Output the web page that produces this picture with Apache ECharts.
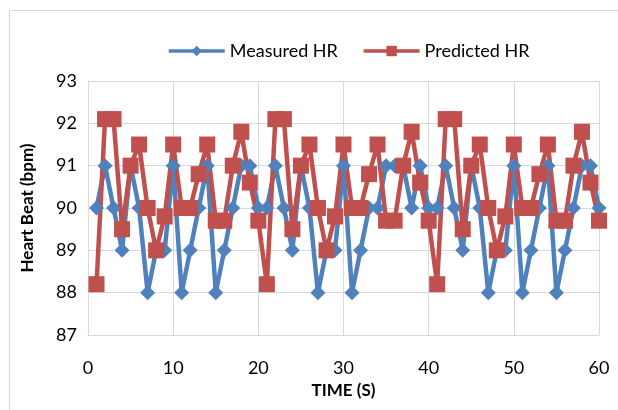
<!DOCTYPE html>
<html>
<head>
<meta charset="utf-8">
<script src="https://cdn.jsdelivr.net/npm/echarts@6/dist/echarts.min.js"></script>
<style>
html, body { margin: 0; padding: 0; background: #fff; }
#chart { width: 618px; height: 410px; }
</style>
</head>
<body>
<div id="chart"></div>
<script>
// time in seconds
var times = [1, 2, 3, 4, 5, 6, 7, 8, 9, 10, 11, 12, 13, 14, 15, 16, 17, 18, 19, 20,
	21, 22, 23, 24, 25, 26, 27, 28, 29, 30, 31, 32, 33, 34, 35, 36, 37, 38, 39, 40,
	41, 42, 43, 44, 45, 46, 47, 48, 49, 50, 51, 52, 53, 54, 55, 56, 57, 58, 59, 60];

var measuredHR = [90, 91, 90, 89, 91, 90, 88, 89, 89, 91, 88, 89, 90, 91, 88, 89, 90, 91, 91, 90,
	90, 91, 90, 89, 91, 90, 88, 89, 89, 91, 88, 89, 90, 90, 91, 91, 91, 90, 91, 90,
	90, 91, 90, 89, 91, 90, 88, 89, 89, 91, 88, 89, 90, 91, 88, 89, 90, 91, 91, 90];

var predictedHR = [88.2, 92.1, 92.1, 89.5, 91.0, 91.5, 90.0, 89.0, 89.8, 91.5, 90.0, 90.0, 90.8, 91.5, 89.7, 89.7, 91.0, 91.8, 90.6, 89.7,
	88.2, 92.1, 92.1, 89.5, 91.0, 91.5, 90.0, 89.0, 89.8, 91.5, 90.0, 90.0, 90.8, 91.5, 89.7, 89.7, 91.0, 91.8, 90.6, 89.7,
	88.2, 92.1, 92.1, 89.5, 91.0, 91.5, 90.0, 89.0, 89.8, 91.5, 90.0, 90.0, 90.8, 91.5, 89.7, 89.7, 91.0, 91.8, 90.6, 89.7];

var xRange = [0, 60, 10];   // min, max, step
var yRange = [87, 93, 1];

function pairs(ys) {
	return times.map(function(t, i) { return [t, ys[i]]; });
}

var font = 'Lato';
var dom = document.getElementById('chart');
var myChart = echarts.init(dom);

var option = {
	animation: false,
	graphic: [{
		type: 'rect',
		shape: { x: 9.5, y: 10.5, width: 640, height: 440 },
		style: { fill: 'none', stroke: '#d9d9d9', lineWidth: 1 }
	}],
	legend: {
		top: 37,
		left: 162,
		itemWidth: 56,
		itemHeight: 13,
		itemGap: 24,
		lineStyle: { width: 3.5 },
		textStyle: { fontFamily: font, fontSize: 18, color: '#000' },
		data: ['Measured HR', 'Predicted HR']
	},
	grid: {
		left: 88,
		right: 19,
		top: 81,
		bottom: 75
	},
	xAxis: {
		type: 'value',
		min: xRange[0],
		max: xRange[1],
		interval: xRange[2],
		name: 'TIME (S)',
		nameLocation: 'middle',
		nameGap: 45,
		nameTextStyle: { fontFamily: font, fontSize: 17, fontWeight: 'bold', color: '#000' },
		axisLine: { lineStyle: { color: '#d9d9d9' } },
		axisTick: { show: false },
		axisLabel: { fontFamily: font, fontSize: 18, color: '#000', margin: 24 },
		splitLine: { show: true, lineStyle: { color: '#d9d9d9', width: 1 } }
	},
	yAxis: {
		type: 'value',
		min: yRange[0],
		max: yRange[1],
		interval: yRange[2],
		name: 'Heart Beat (bpm)',
		nameLocation: 'middle',
		nameGap: 52,
		nameTextStyle: { fontFamily: font, fontSize: 17, fontWeight: 'bold', color: '#000' },
		axisLine: { show: true, lineStyle: { color: '#d9d9d9' } },
		axisTick: { show: false },
		axisLabel: { fontFamily: font, fontSize: 18, color: '#000', margin: 11 },
		splitLine: { show: true, lineStyle: { color: '#d9d9d9', width: 1 } }
	},
	series: [{
			name: 'Measured HR',
			type: 'line',
			data: pairs(measuredHR),
			symbol: 'diamond',
			symbolSize: 15,
			lineStyle: { color: '#4f81bd', width: 4.5 },
			itemStyle: { color: '#4f81bd' }
		},
		{
			name: 'Predicted HR',
			type: 'line',
			data: pairs(predictedHR),
			symbol: 'rect',
			symbolSize: 16,
			lineStyle: { color: '#c0504d', width: 4.5 },
			itemStyle: { color: '#c0504d' }
		}
	]
};

myChart.setOption(option, true);
</script>
</body>
</html>
